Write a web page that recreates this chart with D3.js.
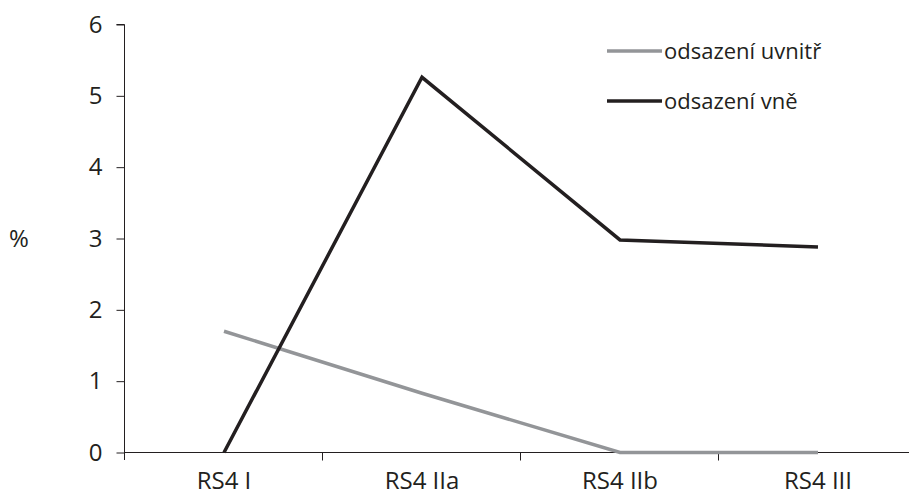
<!DOCTYPE html>
<html><head><meta charset="utf-8">
<script src="https://cdn.jsdelivr.net/npm/d3@7"></script>
<style>body{margin:0;background:#fff}svg{display:block}text{font-family:"Open Sans",sans-serif;fill:#231f20}</style>
</head><body>
<svg id="c" width="909" height="497"></svg>
<script>
const categories = ["RS4 I", "RS4 IIa", "RS4 IIb", "RS4 III"];
const uvnitr = [1.7, 0.83, 0, 0];
const vne = [0, 5.26, 2.98, 2.88];
const seriesNames = ["odsazení uvnitř", "odsazení vně"];
const yTicks = [0, 1, 2, 3, 4, 5, 6];

const FONT = "'Open Sans',sans-serif";
const svg = d3.select("#c");
const x = d3.scaleBand().domain(categories).range([125, 917]);
const y = d3.scaleLinear().domain([0, 6]).range([452.5, 24.5]);
const colors = ["#939598", "#231f20"];

// y axis
const ya = svg.append("g").attr("transform", "translate(124.5,0)")
  .call(d3.axisLeft(y).tickValues(yTicks).tickSize(8).tickPadding(14).tickFormat(d3.format("d")));
ya.select(".domain").attr("stroke", "#231f20").attr("d", "M-8,24.5H0V460");
ya.selectAll("line").attr("stroke", "#231f20");
ya.selectAll("text").attr("font-size", 24).style("font-family", FONT).attr("fill", "#231f20");

// x axis
const xa = svg.append("g").attr("transform", "translate(0,452.5)")
  .call(d3.axisBottom(x).tickSize(0).tickPadding(19));
xa.select(".domain").attr("stroke", "#231f20").attr("d", "M125,0H917");
xa.selectAll("text").attr("font-size", 24).style("font-family", FONT).attr("fill", "#231f20").attr("dy", "0.71em");
const bounds = categories.map(c => x(c)).slice(1);
xa.selectAll(".bt").data(bounds).enter().append("line")
  .attr("x1", d => Math.round(d) - 0.5).attr("x2", d => Math.round(d) - 0.5)
  .attr("y1", 0).attr("y2", 8).attr("stroke", "#231f20");

svg.append("text").attr("x", 9).attr("y", 247).attr("font-size", 24).style("font-family", FONT).text("%");

const line = d3.line().x((d, i) => x(categories[i]) + x.bandwidth() / 2).y(d => y(d));
[uvnitr, vne].forEach((s, k) => {
  svg.append("path").attr("d", line(s)).attr("fill", "none")
    .attr("stroke", colors[k]).attr("stroke-width", 3.5).attr("stroke-linejoin", "miter");
});

const lg = svg.append("g");
seriesNames.forEach((n, k) => {
  const yy = 51 + k * 50;
  lg.append("line").attr("x1", 607).attr("x2", 662).attr("y1", yy).attr("y2", yy)
    .attr("stroke", colors[k]).attr("stroke-width", 3.5);
  lg.append("text").attr("x", 664).attr("y", yy + 8).attr("font-size", 22).style("font-family", FONT).text(n);
});
</script>
</body></html>
